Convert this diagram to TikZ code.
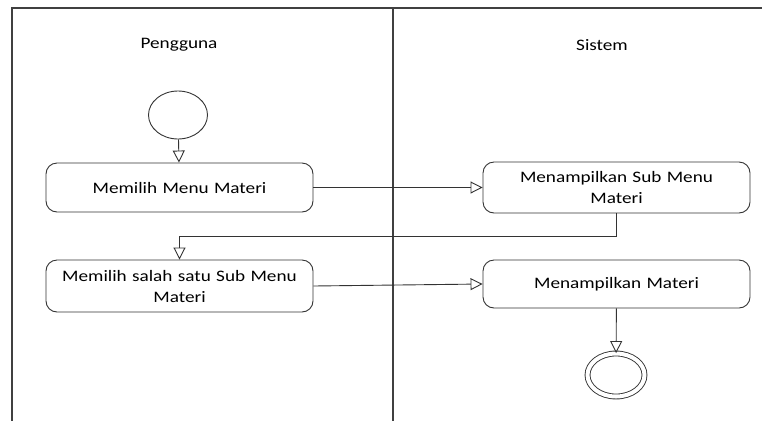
\documentclass[tikz,border=0pt]{standalone}
\usepackage{fontspec}
\setmainfont{Carlito}[FakeStretch=1.2]
\usetikzlibrary{arrows.meta,shapes.geometric}

\begin{document}
\begin{tikzpicture}[
	x=1pt, y=-1pt,
	lane/.style={ draw=black!75, line width=1.3pt },
	activity/.style={ draw=black!80, rectangle, rounded corners=11pt, line width=0.9pt, minimum width=267pt, text width=255pt, align=center, font=\fontsize{16}{21}\selectfont },
	initial/.style={ draw=black!80, ellipse, line width=0.9pt, inner sep=0pt, minimum width=59pt, minimum height=48pt },
	final/.style={ draw=black!80, ellipse, double, double distance=4pt, line width=0.9pt, inner sep=0pt, minimum width=57pt, minimum height=43pt },
	flow/.style={ draw=black!80, line width=0.9pt, -{Triangle[open,length=12pt,width=12pt]} },
	title/.style={ font=\fontsize{16}{19}\selectfont }
]

\useasboundingbox (0,0) rectangle (762,421);
\draw[lane] (762,8) -- (12,8) -- (12,421);
\draw[lane] (393,8) -- (393,421);

\node at (179,45) (pengguna) [title] {Pengguna};
\node at (602,45) (sistem) [title] {Sistem};

\node at (178,115) (start) [initial] {};
\node at (179.5,187.5) (menu) [activity,minimum height=49pt] {Memilih Menu Materi};
\node at (616.5,187.5) (sub) [activity,minimum height=51pt] {Menampilkan Sub Menu\\Materi};
\node at (179.5,286) (pilih) [activity,minimum height=52pt] {Memilih salah satu Sub Menu\\Materi};
\node at (616.5,284) (materi) [activity,minimum height=48pt] {Menampilkan Materi};
\node at (616,375) (end) [final] {};

\draw[flow] (start) -- (menu);
\draw[flow] (menu) -- (sub);
\draw[flow] (sub.south) -- ++(0,23) -| (pilih.north);
\draw[flow] (pilih.east) -- (materi.west);
\draw[flow] (materi) -- (end);

\end{tikzpicture}
\end{document}
